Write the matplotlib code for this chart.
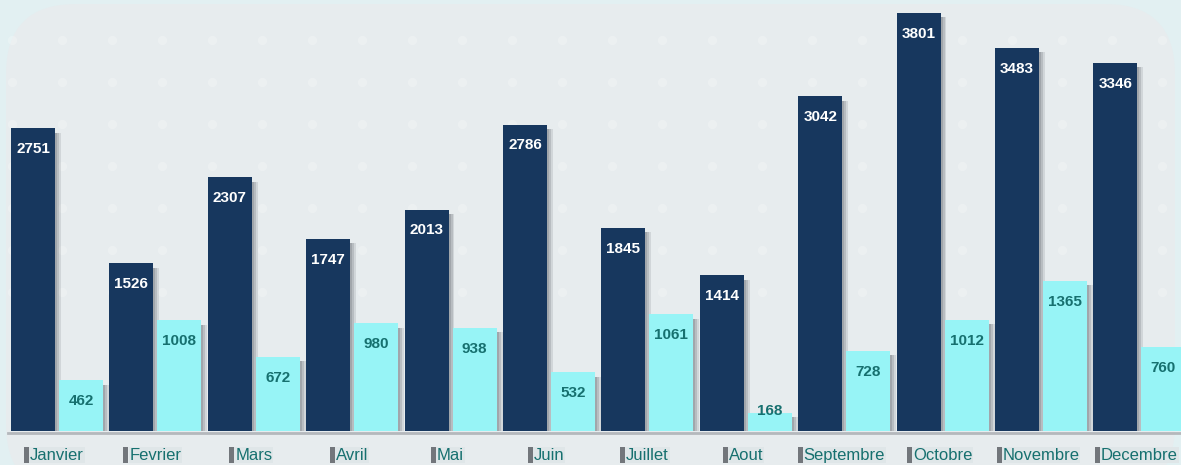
"""
Monthly totals: two series per month, grouped bars with value labels
"""
import matplotlib.pyplot as plt
import numpy as np
from matplotlib.patches import FancyBboxPatch

plt.rcParams['font.family'] = ['Liberation Sans', 'DejaVu Sans']

months = ['Janvier', 'Fevrier', 'Mars', 'Avril', 'Mai', 'Juin', 'Juillet',
          'Aout', 'Septembre', 'Octobre', 'Novembre', 'Decembre']
serie_a = [2751, 1526, 2307, 1747, 2013, 2786, 1845, 1414, 3042, 3801, 3483, 3346]
serie_b = [462, 1008, 672, 980, 938, 532, 1061, 168, 728, 1012, 1365, 760]

dark = '#17375e'
light = '#97f4f6'
teal = '#16706f'

fig = plt.figure(figsize=(11.81, 4.65), dpi=100)
fig.patch.set_facecolor('#e2f0f2')

# rounded background panel
bg = fig.add_axes([0, 0, 1, 1])
bg.set_xlim(0, 1181)
bg.set_ylim(465, 0)
bg.axis('off')
bg.add_patch(FancyBboxPatch((6, 4), 1169, 490, boxstyle='round,pad=0,rounding_size=70',
                            facecolor='#e7ecee', edgecolor='none'))
gx, gy = np.meshgrid(np.arange(12, 1181, 50), np.arange(40, 330, 42))
bg.scatter(gx.ravel(), gy.ravel(), s=45, color='white', alpha=0.22, linewidths=0)
bg.plot([8, 1181], [433, 433], color='#b4b8bc', lw=2)

# ============== Bars ==============
ax = fig.add_axes([0, 34 / 465, 1, 431 / 465])
ax.patch.set_alpha(0)
x = np.arange(len(months))
w = 0.447
off = 0.244
ymax = 431 / 0.11

# soft shadows
for dx, al in [(0.06, 0.18), (0.04, 0.25), (0.02, 0.3)]:
    ax.bar(x - off + dx, serie_a, w, bottom=-40, color='#6f747a', alpha=al, zorder=1, lw=0)
    ax.bar(x + off + dx, serie_b, w, bottom=-40, color='#6f747a', alpha=al, zorder=1, lw=0)

ax.bar(x - off, serie_a, w, color=dark, zorder=2)
ax.bar(x + off, serie_b, w, color=light, zorder=2)

for i, (a, b) in enumerate(zip(serie_a, serie_b)):
    ax.text(i - off, a - 190, str(a), ha='center', va='center', color='white',
            fontsize=11, fontweight='bold', zorder=3)
    ax.text(i + off, max(b - 190, 180), str(b), ha='center', va='center', color=teal,
            fontsize=11, fontweight='bold', zorder=3)

ax.set_xlim(-57 / 98.4, (1181 - 57) / 98.4)
ax.set_ylim(0, ymax)
ax.axis('off')

# month labels with small shadow tab
for i, m in enumerate(months):
    xp = (57 + 98.4 * i) / 1181
    fig.text(xp, 10 / 465, m, ha='center', va='center', color=teal, fontsize=12,
             bbox=dict(boxstyle='square,pad=0.05', facecolor='#dfe6e8', edgecolor='none'))

fig.canvas.draw()
for t in fig.texts:
    bb = t.get_window_extent()
    bg.add_patch(plt.Rectangle((bb.x0 - 6, 465 - bb.y1 - 1), 5, bb.height + 1,
                               facecolor='#55595e', edgecolor='none', alpha=0.8))

plt.savefig('out.png', dpi=100)
